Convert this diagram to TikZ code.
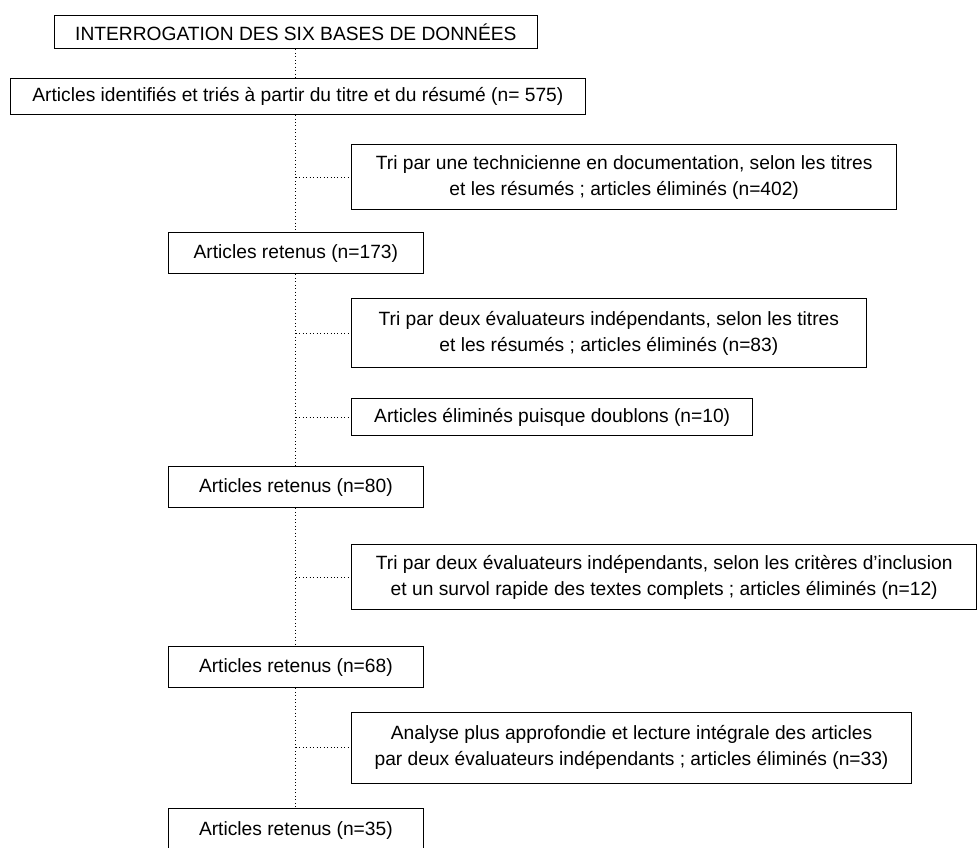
\documentclass[tikz,border=0pt]{standalone}
\usepackage{fontspec}
\setmainfont{Liberation Sans}
\begin{document}
\begin{tikzpicture}[x=0.75pt, y=-0.75pt, font=\fontsize{14.4}{19.5}\selectfont]
        \tikzset{
            box/.style  = {draw, line width=0.8pt, rectangle, anchor=north west, inner sep=0pt, align=center},
            link/.style = {dotted, line width=0.6pt}
        }
        \useasboundingbox (0,0) rectangle (977,848);
        \node[box, minimum width=362pt, minimum height=25pt] (DB) at (54,15) {INTERROGATION DES SIX BASES DE DONNÉES};
        \node[box, minimum width=431pt, minimum height=27pt] (ID) at (10,78) {Articles identifiés et triés à partir du titre et du résumé (n= 575)};
        \node[box, minimum width=409pt, minimum height=49pt] (T1) at (351,144) {Tri par une technicienne en documentation, selon les titres\\et les résumés ; articles éliminés (n=402)};
        \node[box, minimum width=191pt, minimum height=31pt] (R173) at (168,232) {Articles retenus (n=173)};
        \node[box, minimum width=386pt, minimum height=52pt] (T2) at (351,298) {Tri par deux évaluateurs indépendants, selon les titres\\et les résumés ; articles éliminés (n=83)};
        \node[box, minimum width=301pt, minimum height=28pt] (DBL) at (351,398) {Articles éliminés puisque doublons (n=10)};
        \node[box, minimum width=191pt, minimum height=31pt] (R80) at (168,466) {Articles retenus (n=80)};
        \node[box, minimum width=469pt, minimum height=49pt] (T3) at (351,544) {Tri par deux évaluateurs indépendants, selon les critères d’inclusion\\et un survol rapide des textes complets ; articles éliminés (n=12)};
        \node[box, minimum width=191pt, minimum height=31pt] (R68) at (168,646) {Articles retenus (n=68)};
        \node[box, minimum width=420pt, minimum height=53pt] (T4) at (351,712) {Analyse plus approfondie et lecture intégrale des articles\\par deux évaluateurs indépendants ; articles éliminés (n=33)};
        \node[box, minimum width=191pt, minimum height=33pt] (R35) at (168,808) {Articles retenus (n=35)};

        \draw[link] (DB) -- (DB |- ID.north);
        \draw[link] (DB |- ID.south) -- (R173);
        \draw[link] (R173) -- (R80);
        \draw[link] (R80) -- (R68);
        \draw[link] (R68) -- (R35);
        \draw[link] (R173 |- T1.west) -- (T1.west);
        \draw[link] (R173 |- T2.west) -- (T2.west);
        \draw[link] (R173 |- DBL.west) -- (DBL.west);
        \draw[link] (R80 |- T3.west) -- (T3.west);
        \draw[link] (R68 |- T4.west) -- (T4.west);
    \end{tikzpicture}
\end{document}
